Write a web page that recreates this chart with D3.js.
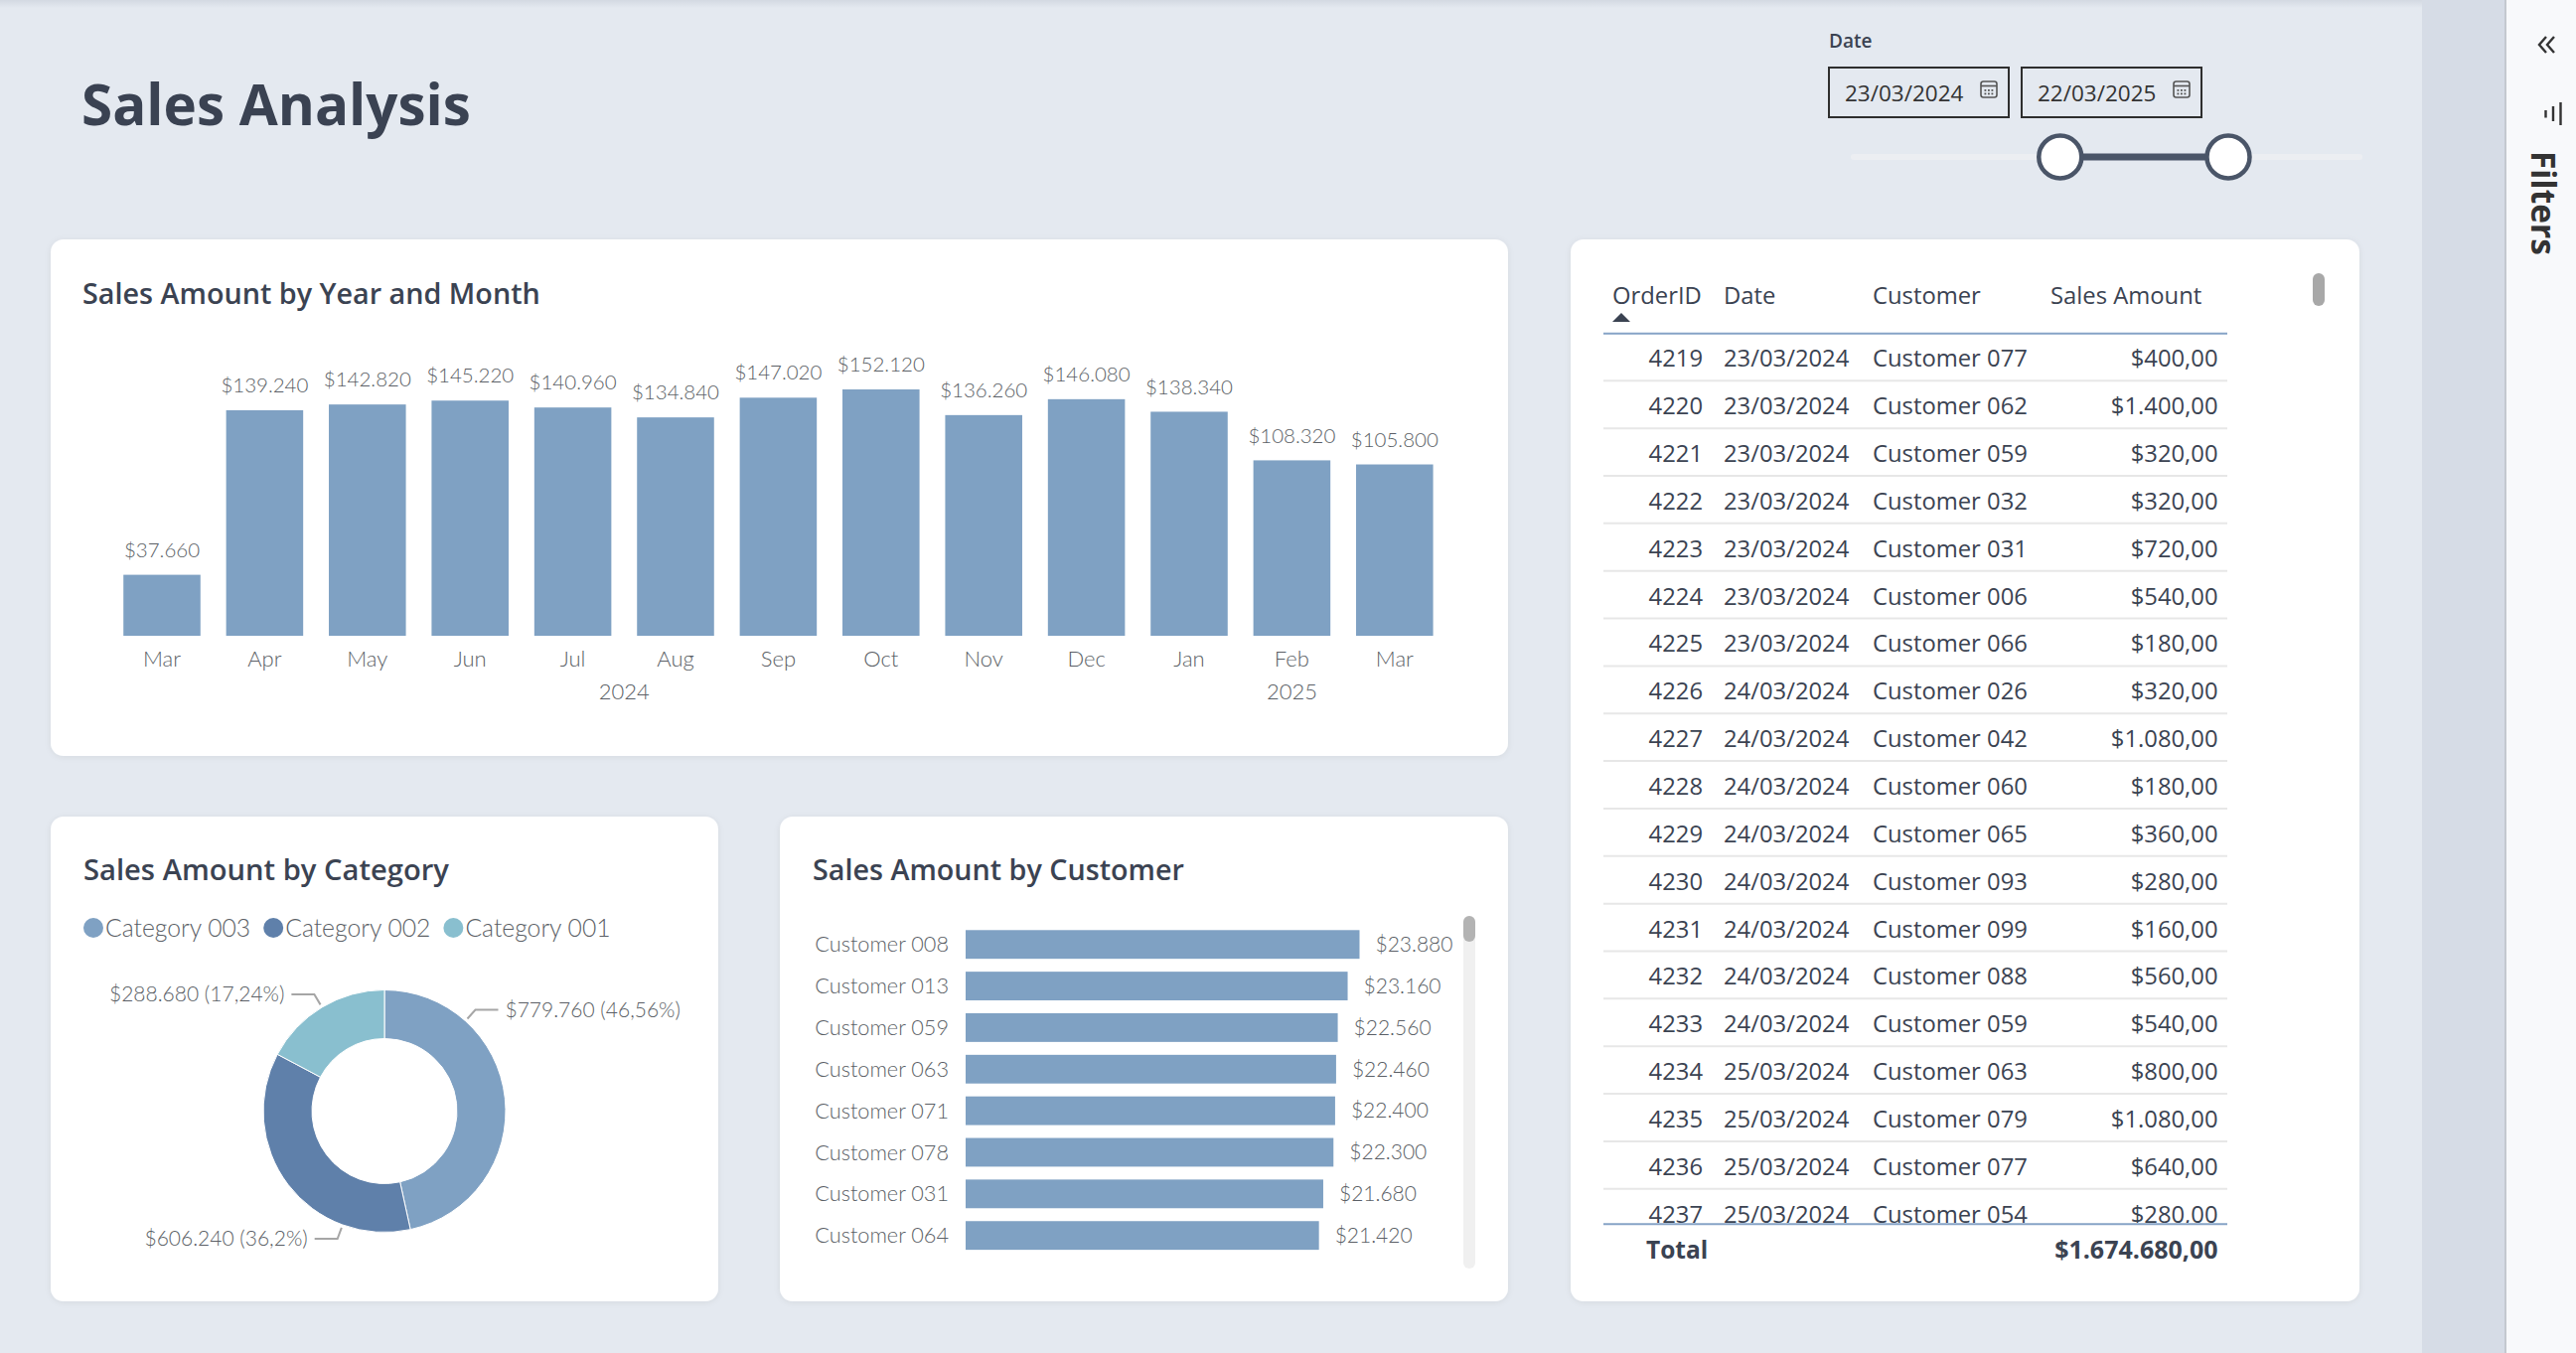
<!DOCTYPE html>
<html><head><meta charset="utf-8">
<script src="https://cdn.jsdelivr.net/npm/d3@7"></script>
<style>
html,body{margin:0;padding:0;background:#e4e9f0;overflow:hidden}
svg{display:block;font-family:"Open Sans","Noto Sans",sans-serif}
.lt{font-family:"Lato","Open Sans",sans-serif;font-weight:300}
</style></head><body>
<svg id="c" width="2593" height="1362"></svg>
<script>
// ---------------- DATA ----------------
const months = ["Mar","Apr","May","Jun","Jul","Aug","Sep","Oct","Nov","Dec","Jan","Feb","Mar"];
const monthYears = [2024,2024,2024,2024,2024,2024,2024,2024,2024,2024,2025,2025,2025];
const monthSales = [37660,139240,142820,145220,140960,134840,147020,152120,136260,146080,138340,108320,105800];

const categories = ["Category 003","Category 002","Category 001"];
const categorySales = [779760,606240,288680];

const customers = ["Customer 008","Customer 013","Customer 059","Customer 063","Customer 071","Customer 078","Customer 031","Customer 064"];
const customerSales = [23880,23160,22560,22460,22400,22300,21680,21420];

const tableColumns = ["OrderID","Date","Customer","Sales Amount"];
const orderIds = [4219,4220,4221,4222,4223,4224,4225,4226,4227,4228,4229,4230,4231,4232,4233,4234,4235,4236,4237];
const orderDates = ["23/03/2024","23/03/2024","23/03/2024","23/03/2024","23/03/2024","23/03/2024","23/03/2024",
  "24/03/2024","24/03/2024","24/03/2024","24/03/2024","24/03/2024","24/03/2024","24/03/2024","24/03/2024",
  "25/03/2024","25/03/2024","25/03/2024","25/03/2024"];
const orderCustomers = ["Customer 077","Customer 062","Customer 059","Customer 032","Customer 031","Customer 006","Customer 066",
  "Customer 026","Customer 042","Customer 060","Customer 065","Customer 093","Customer 099","Customer 088","Customer 059",
  "Customer 063","Customer 079","Customer 077","Customer 054"];
const orderAmounts = [400,1400,320,320,720,540,180,320,1080,180,360,280,160,560,540,800,1080,640,280];

const dateRangeLabels = ["23/03/2024","22/03/2025"];
const sliderDomain = ["2023-01-01","2025-12-31"];
const sliderSelection = ["2024-03-23","2025-03-22"];

// ---------------- STYLE ----------------
const BAR = "#7fa1c3";
const catColors = ["#7fa1c3","#5f80aa","#89bfcf"];
const TITLE = "#3b4352";
const LABEL = "#5b5f66";
const TEXT = "#3b4352";

const loc = d3.formatLocale({decimal:",", thousands:".", grouping:[3], currency:["$",""]});
const fmt0 = loc.format("$,.0f");
const fmt2 = loc.format("$,.2f");
const fmtPct = loc.format(".2~%");

const svg = d3.select("#c");
const defs = svg.append("defs");
const sh = defs.append("filter").attr("id","sh").attr("x","-5%").attr("y","-5%").attr("width","110%").attr("height","110%");
sh.append("feDropShadow").attr("dx",0).attr("dy",1).attr("stdDeviation",3).attr("flood-color","#000").attr("flood-opacity",0.07);
const topGrad = defs.append("linearGradient").attr("id","tg").attr("x1",0).attr("x2",0).attr("y1",0).attr("y2",1);
topGrad.append("stop").attr("offset",0).attr("stop-color","#d3d9e2");
topGrad.append("stop").attr("offset",1).attr("stop-color","#e4e9f0");

function fit(t, w){
  const l = t.node().getComputedTextLength();
  const fs = parseFloat(t.attr("font-size"));
  t.attr("font-size", fs*w/l);
  return t;
}

// background areas
svg.append("rect").attr("x",0).attr("y",0).attr("width",2438).attr("height",1362).attr("fill","#e4e9f0");
svg.append("rect").attr("x",0).attr("y",0).attr("width",2438).attr("height",8).attr("fill","url(#tg)");
svg.append("rect").attr("x",2438).attr("y",0).attr("width",84).attr("height",1362).attr("fill","#d6dce6");
svg.append("rect").attr("x",2522).attr("y",0).attr("width",71).attr("height",1362).attr("fill","#f8f9fb");
svg.append("line").attr("x1",2522).attr("x2",2522).attr("y1",0).attr("y2",1362).attr("stroke","#c4c8cf").attr("stroke-width",2);

// filter pane
svg.append("path").attr("d","M2563,37 L2556,45 L2563,53 M2571,37 L2564,45 L2571,53")
  .attr("fill","none").attr("stroke","#333").attr("stroke-width",2.4);
svg.append("path").attr("d","M2562.5,111 L2562.5,118.5 M2570,107 L2570,122 M2577.5,103 L2577.5,126")
  .attr("fill","none").attr("stroke","#333").attr("stroke-width",2.4);
fit(svg.append("text").attr("transform","translate(2548,152) rotate(90)").attr("font-size",33)
  .attr("font-weight",700).attr("fill","#333").text("Filters"),105);

// title
fit(svg.append("text").attr("x",82).attr("y",126).attr("font-size",58).attr("font-weight",700)
  .attr("fill","#3a4252").text("Sales Analysis"),392);

// date slicer
svg.append("text").attr("x",1841).attr("y",41).attr("dy","0.35em").attr("font-size",19).attr("font-weight",600)
  .attr("fill",TEXT).text("Date");
dateRangeLabels.forEach((d,i)=>{
  const bx = 1841 + i*194, by = 68;
  svg.append("rect").attr("x",bx).attr("y",by).attr("width",181).attr("height",50)
    .attr("fill","none").attr("stroke","#2e2e2e").attr("stroke-width",2);
  svg.append("text").attr("x",bx+16).attr("y",by+26).attr("dy","0.35em").attr("font-size",22.5)
    .attr("fill","#333").text(d);
  const ix = bx+153, iy = 82;
  const g = svg.append("g").attr("fill","none").attr("stroke","#555").attr("stroke-width",1.6);
  g.append("rect").attr("x",ix).attr("y",iy).attr("width",16).attr("height",16).attr("rx",2.5);
  g.append("line").attr("x1",ix).attr("x2",ix+16).attr("y1",iy+4.5).attr("y2",iy+4.5);
  [0,1,2].forEach(c=>[0,1].forEach(r=>{
    svg.append("rect").attr("x",ix+3.5+c*3.5).attr("y",iy+8+r*3.5).attr("width",1.8).attr("height",1.8).attr("fill","#555");
  }));
});
const sx = d3.scaleTime().domain(sliderDomain.map(d=>new Date(d))).range([1866,2375]);
svg.append("line").attr("x1",sx.range()[0]).attr("x2",sx.range()[1]).attr("y1",158).attr("y2",158)
  .attr("stroke","#eceef2").attr("stroke-width",6).attr("stroke-linecap","round");
const hs = sliderSelection.map(d=>sx(new Date(d)));
svg.append("line").attr("x1",hs[0]).attr("x2",hs[1]).attr("y1",158).attr("y2",158)
  .attr("stroke","#4a5568").attr("stroke-width",7);
hs.forEach(h=>svg.append("circle").attr("cx",h).attr("cy",158).attr("r",21.5)
  .attr("fill","#fff").attr("stroke","#4a5568").attr("stroke-width",4.5));

// panels
const panels = [
  {x:51,y:241,w:1467,h:520},
  {x:51,y:822,w:672,h:488},
  {x:785,y:822,w:733,h:488},
  {x:1581,y:241,w:794,h:1069}
];
svg.selectAll("rect.panel").data(panels).join("rect").attr("class","panel")
  .attr("x",d=>d.x).attr("y",d=>d.y).attr("width",d=>d.w).attr("height",d=>d.h)
  .attr("rx",13).attr("fill","#fff").attr("filter","url(#sh)");

function panelTitle(x,y,txt,w){
  return fit(svg.append("text").attr("x",x).attr("y",y).attr("font-size",29).attr("font-weight",600)
    .attr("fill",TITLE).text(txt), w);
}
panelTitle(83,306,"Sales Amount by Year and Month",461);
panelTitle(84,886,"Sales Amount by Category",368);
panelTitle(818,886,"Sales Amount by Customer",374);

// ---------------- BAR CHART: year & month ----------------
const step = 103.4;
const xb = d3.scaleBand().domain(d3.range(months.length))
  .range([163-step/2, 163-step/2 + step*months.length]).paddingInner(0.25).paddingOuter(0.125);
const yb = d3.scaleLinear().domain([0, d3.max(monthSales)]).range([640, 392]);
const gb = svg.append("g");
gb.selectAll("rect").data(monthSales).join("rect")
  .attr("x",(d,i)=>xb(i)).attr("width",xb.bandwidth())
  .attr("y",d=>yb(d)).attr("height",d=>yb(0)-yb(d)).attr("fill",BAR);
gb.selectAll("text.v").data(monthSales).join("text").attr("class","v lt")
  .attr("x",(d,i)=>xb(i)+xb.bandwidth()/2).attr("y",d=>yb(d)-25).attr("dy","0.35em")
  .attr("text-anchor","middle").attr("font-size",20.5).attr("fill",LABEL)
  .text(d=>fmt0(d));
const xAxis = d3.axisBottom(xb).tickSize(0).tickPadding(0).tickFormat(i=>months[i]);
const ax = svg.append("g").attr("transform","translate(0,663)").call(xAxis);
ax.select(".domain").remove();
ax.attr("font-family",null).attr("font-size",null);
ax.selectAll("text").attr("class","lt").attr("y",0).attr("dy","0.35em").attr("font-size",22)
  .attr("fill",LABEL);
const years = Array.from(new Set(monthYears));
years.forEach(yr=>{
  const idx = d3.range(months.length).filter(i=>monthYears[i]===yr);
  const c = (xb(idx[0]) + xb(idx[idx.length-1]))/2 + xb.bandwidth()/2;
  svg.append("text").attr("class","lt").attr("x",c).attr("y",696).attr("dy","0.35em").attr("text-anchor","middle")
    .attr("font-size",22).attr("fill",LABEL).text(yr);
});

// ---------------- DONUT: category ----------------
const total = d3.sum(categorySales);
const cx = 387, cy = 1118.5, rOut = 122, rIn = 73;
const labelAnchorFrac = [0.25,0.25,0.5];
const catData = categories.map((c,i)=>({name:c, value:categorySales[i], color:catColors[i]}));
const pie = d3.pie().sort(null).value(d=>d.value);
const arcs = pie(catData);
const arc = d3.arc().innerRadius(rIn).outerRadius(rOut);
const gd = svg.append("g").attr("transform",`translate(${cx},${cy})`);
gd.selectAll("path").data(arcs).join("path").attr("d",arc).attr("fill",d=>d.data.color)
  .attr("stroke","#fff").attr("stroke-width",1);
arcs.forEach((a,i)=>{
  const ang = a.startAngle + labelAnchorFrac[i]*(a.endAngle-a.startAngle);
  const p = r=>[cx+Math.sin(ang)*r, cy-Math.cos(ang)*r];
  const p0 = p(rOut+3), p1 = p(rOut+15);
  const right = p1[0] > cx;
  const p2 = [p1[0] + (right?23:-23), p1[1]];
  svg.append("path").attr("d",`M${p0}L${p1}L${p2}`).attr("fill","none")
    .attr("stroke","#a6a6a6").attr("stroke-width",2);
  svg.append("text").attr("class","lt").attr("x",p2[0]+(right?7:-7)).attr("y",p1[1]).attr("dy","0.35em")
    .attr("text-anchor",right?"start":"end").attr("font-size",21).attr("fill",LABEL)
    .text(`${fmt0(a.data.value)} (${fmtPct(a.data.value/total)})`);
});
// legend
let lx = 94;
catData.forEach(d=>{
  svg.append("circle").attr("cx",lx).attr("cy",934).attr("r",10).attr("fill",d.color);
  const t = svg.append("text").attr("class","lt").attr("x",lx+12).attr("y",934).attr("dy","0.35em").attr("font-size",24.7)
    .attr("fill",LABEL).text(d.name);
  lx += 12 + t.node().getComputedTextLength() + 23;
});

// ---------------- HBAR: customer ----------------
const ych = d3.scaleBand().domain(customers).range([929.8, 929.8+41.85*customers.length])
  .paddingInner(0.31).paddingOuter(0.155);
const xch = d3.scaleLinear().domain([0, d3.max(customerSales)]).range([972, 1368.5]);
const gc = svg.append("g");
gc.selectAll("rect").data(customers).join("rect")
  .attr("x",xch(0)).attr("y",d=>ych(d)).attr("height",ych.bandwidth())
  .attr("width",(d,i)=>xch(customerSales[i])-xch(0)).attr("fill",BAR);
gc.selectAll("text.v").data(customers).join("text").attr("class","v lt")
  .attr("x",(d,i)=>xch(customerSales[i])+16).attr("y",d=>ych(d)+ych.bandwidth()/2).attr("dy","0.35em")
  .attr("font-size",21).attr("fill",LABEL).text((d,i)=>fmt0(customerSales[i]));
const yAxis = d3.axisLeft(ych).tickSize(0).tickPadding(0);
const ay = svg.append("g").attr("transform","translate(955,0)").call(yAxis);
ay.select(".domain").remove();
ay.attr("font-family",null).attr("font-size",null);
ay.selectAll("text").attr("class","lt").attr("x",0).attr("dy","0.35em").attr("font-size",21.7)
  .attr("fill",LABEL);
svg.append("rect").attr("x",1473).attr("y",922).attr("width",12).attr("height",355).attr("rx",6).attr("fill","#f0f0f0");
svg.append("rect").attr("x",1473).attr("y",922).attr("width",12).attr("height",26).attr("rx",6).attr("fill","#b3b3b3");

// ---------------- TABLE ----------------
const rowH = 47.85, row0 = 361;
const tl = 1614, tr = 2242;
const colX = [1714, 1735, 1885, 2232.5];
const colAnchor = ["end","start","start","end"];
const headX = [1623, 1735, 1885, 2064];
tableColumns.forEach((c,i)=>{
  svg.append("text").attr("x",headX[i]).attr("y",298).attr("dy","0.35em").attr("font-size",23.8)
    .attr("fill",TEXT).text(c);
});
svg.append("path").attr("d","M1623,324 L1632,315 L1641,324 Z").attr("fill",TEXT);
defs.append("clipPath").attr("id","tclip").append("rect").attr("x",1590).attr("y",337).attr("width",700).attr("height",894);
const rows = orderIds.map((id,i)=>[String(id), orderDates[i], orderCustomers[i], fmt2(orderAmounts[i])]);
const gt = svg.append("g").attr("clip-path","url(#tclip)");
const gr = gt.selectAll("g").data(rows).join("g").attr("transform",(d,i)=>`translate(0,${row0+i*rowH})`);
gr.append("line").attr("x1",tl).attr("x2",tr).attr("y1",22.3).attr("y2",22.3).attr("stroke","#e7e7e7").attr("stroke-width",2);
gr.selectAll("text").data(d=>d).join("text").attr("x",(d,i)=>colX[i]).attr("y",0).attr("dy","0.35em")
  .attr("text-anchor",(d,i)=>colAnchor[i]).attr("font-size",23.8).attr("fill",TEXT).text(d=>d);
svg.append("line").attr("x1",tl).attr("x2",tr).attr("y1",335.7).attr("y2",335.7).attr("stroke","#86a3c6").attr("stroke-width",2);
svg.append("line").attr("x1",tl).attr("x2",tr).attr("y1",1232.3).attr("y2",1232.3).attr("stroke","#86a3c6").attr("stroke-width",2);
svg.append("text").attr("x",1657).attr("y",1258).attr("dy","0.35em").attr("font-size",24.5).attr("font-weight",700)
  .attr("fill",TEXT).text("Total");
svg.append("text").attr("x",colX[3]).attr("y",1258).attr("dy","0.35em").attr("text-anchor","end").attr("font-size",25)
  .attr("font-weight",700).attr("fill",TEXT).text(fmt2(d3.sum(monthSales)));
svg.append("rect").attr("x",2328).attr("y",275).attr("width",12).attr("height",33).attr("rx",6).attr("fill","#a8a8a8");
</script>
</body></html>
